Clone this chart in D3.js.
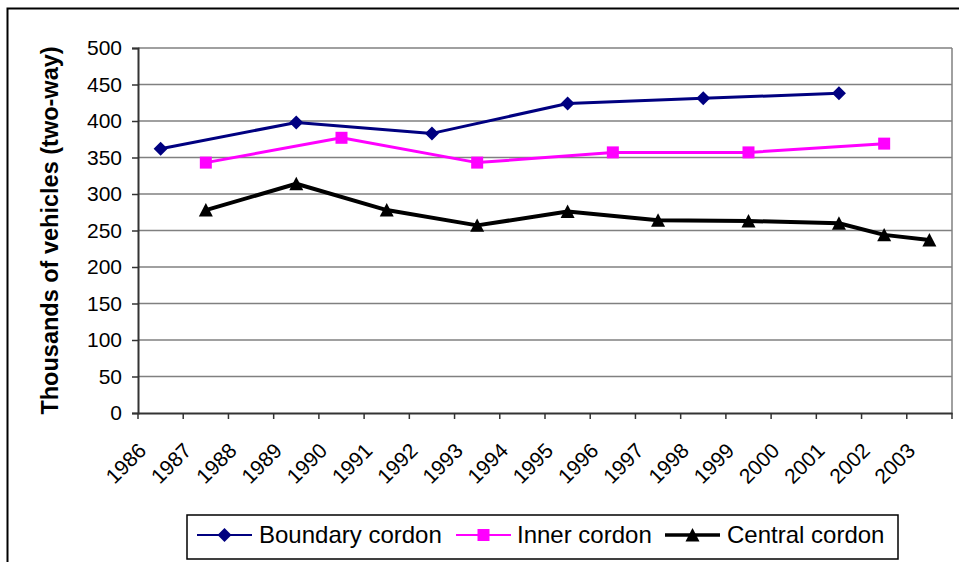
<!DOCTYPE html>
<html>
<head>
<meta charset="utf-8">
<script src="https://cdn.jsdelivr.net/npm/d3@7"></script>
<style>
  html, body { margin: 0; padding: 0; background: #fff; }
  svg { display: block; font-family: "Liberation Sans", Arial, sans-serif; }
</style>
</head>
<body>
<svg id="chart" width="959" height="562"></svg>
<script>
const years = ["1986","1987","1988","1989","1990","1991","1992","1993","1994","1995","1996","1997","1998","1999","2000","2001","2002","2003"];
const boundary = [362,null,null,398,null,null,383,null,null,424,null,null,431,null,null,438,null,null];
const inner    = [null,343,null,null,377,null,null,343,null,null,357,null,null,357,null,null,369,null];
const central  = [null,278,null,314,null,278,null,257,null,276,null,264,null,263,null,260,244,237];
const yTicks = [0,50,100,150,200,250,300,350,400,450,500];
const seriesNames = ["Boundary cordon","Inner cordon","Central cordon"];

const svg = d3.select("#chart");
const L = 138, R = 952, T = 48, B = 413;

// outer frame
svg.append("rect").attr("x", 7.5).attr("y", 8.5).attr("width", 1000).attr("height", 600)
  .attr("fill", "none").attr("stroke", "#000").attr("stroke-width", 2);

const x = d3.scaleBand().domain(years).range([L, R]).paddingInner(0).paddingOuter(0);
const y = d3.scaleLinear().domain([0, 500]).range([B, T]);

// gridlines
svg.append("g").selectAll("line").data(yTicks.filter(d => d > 0)).join("line")
  .attr("x1", L).attr("x2", R).attr("y1", d => y(d)).attr("y2", d => y(d))
  .attr("stroke", "#808080").attr("stroke-width", 1.3);

// right border
svg.append("line").attr("x1", R).attr("x2", R).attr("y1", T).attr("y2", B)
  .attr("stroke", "#808080").attr("stroke-width", 1.5);

// y axis
const yAxis = d3.axisLeft(y).tickValues(yTicks).tickSize(6).tickPadding(10).tickFormat(d3.format("d"));
const gy = svg.append("g").attr("transform", `translate(${L},0)`).call(yAxis);
gy.select(".domain").attr("stroke", "#333").attr("stroke-width", 2);
gy.selectAll(".tick line").attr("stroke", "#333").attr("stroke-width", 1.5);
gy.selectAll(".tick text").attr("font-size", 21).attr("fill", "#000")
  .attr("font-family", "'Liberation Sans', Arial, sans-serif");

// x axis
const xAxis = d3.axisBottom(x).tickSize(0).tickFormat("");
const gx = svg.append("g").attr("transform", `translate(0,${B})`).call(xAxis);
gx.select(".domain").attr("stroke", "#333").attr("stroke-width", 2);
gx.selectAll(".tick").remove();
// tick marks at band boundaries
const bounds = years.map(d => x(d)).concat([R]);
svg.append("g").selectAll("line").data(bounds).join("line")
  .attr("x1", d => d).attr("x2", d => d).attr("y1", B).attr("y2", B + 6)
  .attr("stroke", "#333").attr("stroke-width", 1.5);
// rotated labels
svg.append("g").selectAll("text").data(years).join("text")
  .attr("transform", d => `translate(${x(d) + x.bandwidth()/2 - 13},${B + 39}) rotate(-45)`)
  .attr("text-anchor", "end")
  .attr("font-size", 21)
  .attr("fill", "#000")
  .text(d => d);

// y title
svg.append("text")
  .attr("transform", `translate(58,${(T + B) / 2}) rotate(-90)`)
  .attr("text-anchor", "middle")
  .attr("font-size", 23.5).attr("font-weight", "bold")
  .text("Thousands of vehicles (two-way)");

const cx = i => x(years[i]) + x.bandwidth() / 2;
const line = d3.line().x(d => cx(d.i)).y(d => y(d.v));

function pts(arr) { return arr.map((v, i) => ({ v, i })).filter(d => d.v !== null); }

const diamond = r => `M0,${-r}L${r},0L0,${r}L${-r},0Z`;
const square = r => `M${-r},${-r}H${r}V${r}H${-r}Z`;
const triangle = r => `M0,${-r}L${r},${r * 0.92}L${-r},${r * 0.92}Z`;

const series = [
  { data: boundary, color: "#000080", width: 3, shape: diamond, r: 7, lr: 7, lw: 2 },
  { data: inner, color: "#FF00FF", width: 3, shape: square, r: 6, lr: 6, lw: 2 },
  { data: central, color: "#000000", width: 4, shape: triangle, r: 7, lr: 7, lw: 3.5 }
];

series.forEach(s => {
  const p = pts(s.data);
  svg.append("path").datum(p).attr("d", line)
    .attr("fill", "none").attr("stroke", s.color).attr("stroke-width", s.width)
    .attr("stroke-linejoin", "round");
  svg.append("g").selectAll("path").data(p).join("path")
    .attr("transform", d => `translate(${cx(d.i)},${y(d.v)})`)
    .attr("d", s.shape(s.r))
    .attr("fill", s.color);
});

// legend
svg.append("rect").attr("x", 187).attr("y", 515).attr("width", 711).attr("height", 44)
  .attr("fill", "#fff").attr("stroke", "#000").attr("stroke-width", 1.5);
const legX = [[197, 252, 259], [456, 511, 517], [665, 720, 727]];
const legY = 535;
series.forEach((s, k) => {
  const [x1, x2, tx] = legX[k];
  svg.append("line").attr("x1", x1).attr("x2", x2).attr("y1", legY).attr("y2", legY)
    .attr("stroke", s.color).attr("stroke-width", s.lw);
  svg.append("path").attr("transform", `translate(${(x1 + x2) / 2},${legY})`)
    .attr("d", s.shape(s.lr)).attr("fill", s.color);
  svg.append("text").attr("x", tx).attr("y", legY + 8).attr("font-size", 24)
    .attr("fill", "#000").text(seriesNames[k]);
});
</script>
</body>
</html>
